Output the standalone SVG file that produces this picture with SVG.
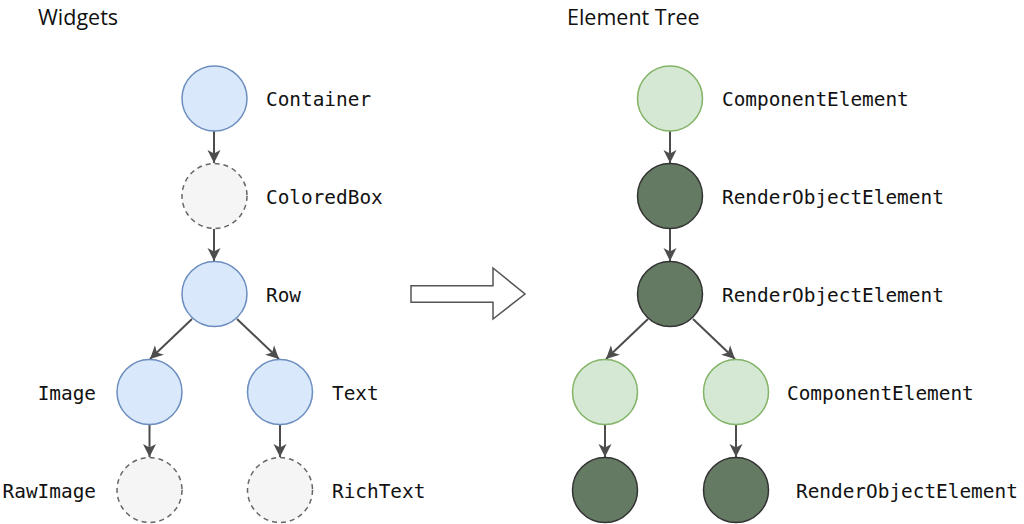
<svg xmlns="http://www.w3.org/2000/svg" width="1024" height="524" viewBox="0 0 1024 524">
<defs>
<marker id="ah" markerWidth="14" markerHeight="14" refX="13" refY="7" orient="auto" markerUnits="userSpaceOnUse" viewBox="0 0 14 14">
<path d="M0,0.5 L13,7 L0,13.5 L3.5,7 Z" fill="#4d4d4d"/>
</marker>
<style>
.t{font-family:"DejaVu Sans Mono","Liberation Mono",monospace;font-size:19.4px;fill:#111}
.h{font-family:"Open Sans","Liberation Sans",sans-serif;font-size:21.5px;font-weight:500;fill:#111}
.blue{fill:#dae8fc;stroke:#6c8ebf;stroke-width:1.5}
.grey{fill:#f5f5f5;stroke:#666;stroke-width:1.5;stroke-dasharray:5 4}
.lg{fill:#d5e8d4;stroke:#82b366;stroke-width:1.5}
.dg{fill:#647a62;stroke:#333;stroke-width:1.5}
.c{stroke:#4d4d4d;stroke-width:2;fill:none;marker-end:url(#ah)}
</style>
</defs>
<rect width="1024" height="524" fill="#fff"/>
<text class="h" x="38" y="25">Widgets</text>
<text class="h" x="567" y="25">Element Tree</text>
<g id="connectors">
<line class="c" x1="214" y1="131" x2="214" y2="163"/>
<line class="c" x1="214" y1="229" x2="214" y2="261"/>
<line class="c" x1="192" y1="319" x2="150" y2="359"/>
<line class="c" x1="237" y1="319" x2="279" y2="359"/>
<line class="c" x1="149.5" y1="425" x2="149.5" y2="457"/>
<line class="c" x1="280" y1="425" x2="280" y2="457"/>
<line class="c" x1="670" y1="131" x2="670" y2="163"/>
<line class="c" x1="670" y1="229" x2="670" y2="261"/>
<line class="c" x1="648" y1="319" x2="606" y2="359"/>
<line class="c" x1="693" y1="319" x2="735" y2="359"/>
<line class="c" x1="605" y1="425" x2="605" y2="457"/>
<line class="c" x1="736" y1="425" x2="736" y2="457"/>
</g>
<g id="bigArrow">
<path d="M411,285.7 L493,285.7 L493,268 L525,294 L493,319 L493,302.3 L411,302.3 Z" fill="#fff" stroke="#555" stroke-width="1.5"/>
</g>
<g id="container"><circle class="blue" cx="214.5" cy="98.5" r="32.5"/><text class="t" x="266" y="106">Container</text></g>
<g id="coloredBox"><circle class="grey" cx="214.5" cy="196" r="32.5"/><text class="t" x="266" y="204">ColoredBox</text></g>
<g id="row"><circle class="blue" cx="214.5" cy="294" r="32.5"/><text class="t" x="266" y="302">Row</text></g>
<g id="image"><circle class="blue" cx="149.5" cy="392" r="32.5"/><text class="t" x="96" y="400" text-anchor="end">Image</text></g>
<g id="text"><circle class="blue" cx="280" cy="392" r="32.5"/><text class="t" x="332" y="400">Text</text></g>
<g id="rawImage"><circle class="grey" cx="149.5" cy="490" r="32.5"/><text class="t" x="96" y="498" text-anchor="end">RawImage</text></g>
<g id="richText"><circle class="grey" cx="280" cy="490" r="32.5"/><text class="t" x="332" y="498">RichText</text></g>
<g id="componentElement1"><circle class="lg" cx="670" cy="98.5" r="32.5"/><text class="t" x="722" y="106">ComponentElement</text></g>
<g id="renderObjectElement1"><circle class="dg" cx="670" cy="196" r="32.5"/><text class="t" x="722" y="204">RenderObjectElement</text></g>
<g id="renderObjectElement2"><circle class="dg" cx="670" cy="294" r="32.5"/><text class="t" x="722" y="302">RenderObjectElement</text></g>
<g id="componentElement2"><circle class="lg" cx="605" cy="392" r="32.5"/></g>
<g id="componentElement3"><circle class="lg" cx="736" cy="392" r="32.5"/><text class="t" x="787" y="400">ComponentElement</text></g>
<g id="renderObjectElement3"><circle class="dg" cx="605" cy="490" r="32.5"/></g>
<g id="renderObjectElement4"><circle class="dg" cx="736" cy="490" r="32.5"/><text class="t" x="796" y="498">RenderObjectElement</text></g>
</svg>
